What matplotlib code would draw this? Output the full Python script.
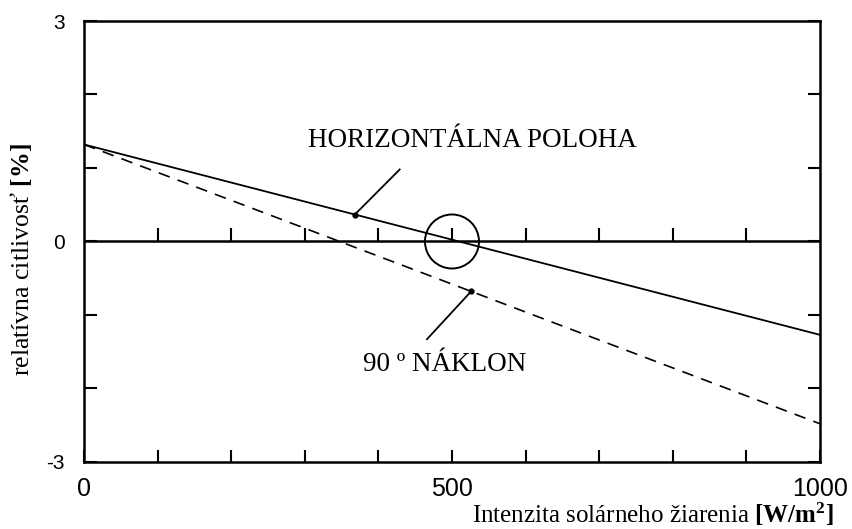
import numpy as np
import matplotlib.pyplot as plt
from matplotlib.patches import Ellipse

plt.rcParams['mathtext.fontset'] = 'custom'
plt.rcParams['mathtext.bf'] = 'Liberation Serif:bold'
plt.rcParams['mathtext.rm'] = 'Liberation Serif'

# data
x_end = [0, 1000]
horizontal = [1.32, -1.27]     # HORIZONTÁLNA POLOHA
tilt90 = [1.32, -2.48]         # 90 ° NÁKLON
x_ticks = list(range(0, 1001, 100))
x_labels = {0: '0', 500: '500', 1000: '1000'}
y_ticks = [-3, -2, -1, 0, 1, 2, 3]
y_labels = {-3: '-3', 0: '0', 3: '3'}
dot_h = 368
dot_t = 526
lead_h = (429, 0.98)
lead_t = (466, -1.33)

fig = plt.figure(figsize=(8.52, 5.29), dpi=100)
ax = fig.add_axes([0.0986, 0.1267, 0.8638, 0.8336])

ax.plot(x_end, horizontal, color='black', lw=1.3)
ax.plot(x_end, tilt90, color='black', lw=1.2, dashes=(7, 5))
ax.axhline(0, color='black', lw=1.8)

# ticks on the zero line
ax.vlines(x_ticks[1:-1], 0, 0.19, color='black', lw=1.5)

# dots and leader lines
yh = np.interp(dot_h, x_end, horizontal)
yt = np.interp(dot_t, x_end, tilt90)
ax.plot([dot_h], [yh], 'o', color='black', ms=3.5)
ax.plot([dot_t], [yt], 'o', color='black', ms=3.5)
ax.plot([dot_h, lead_h[0]], [yh, lead_h[1]], color='black', lw=1.3)
ax.plot([dot_t, lead_t[0]], [yt, lead_t[1]], color='black', lw=1.3)
ax.text(528, 1.37, 'HORIZONTÁLNA POLOHA', ha='center', va='center',
        fontsize=19.5, family='Liberation Serif')
ax.text(490, -1.68, '90 º NÁKLON', ha='center', va='center',
        fontsize=19.5, family='Liberation Serif')

# circle at the crossing point
ax.add_patch(Ellipse((500, 0), 73.4, 0.735, fill=False, color='black', lw=1.4))

ax.set_xlim(0, 1000)
ax.set_ylim(-3, 3)
ax.set_xticks(x_ticks)
ax.set_xticklabels([x_labels.get(t, '') for t in x_ticks], family='Liberation Sans', fontsize=18)
ax.set_yticks(y_ticks)
ax.set_yticklabels([y_labels.get(t, '') for t in y_ticks], family='Liberation Sans', fontsize=15)
ax.tick_params(axis='x', direction='in', length=9, width=1.5, pad=11)
ax.tick_params(axis='y', direction='in', length=9, width=1.5, pad=14, right=True)
for s in ax.spines.values():
    s.set_linewidth(1.8)

fig.text(0.025, 0.51, r'relatívna citlivosť $\mathbf{[\%]}$', rotation=90,
         ha='center', va='center', fontsize=18.5, family='Liberation Serif')
fig.text(0.978, 0.011, r'Intenzita solárneho žiarenia $\mathbf{[W/m^2]}$',
         ha='right', va='baseline', fontsize=18, family='Liberation Serif')

fig.savefig('out.png', dpi=100)
